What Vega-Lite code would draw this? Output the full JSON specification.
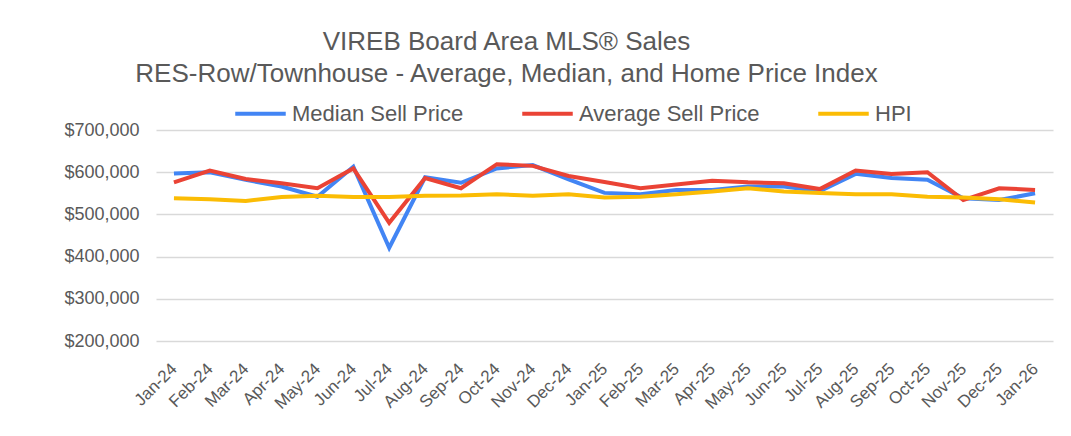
{
  "$schema": "https://vega.github.io/schema/vega-lite/v6.json",
  "width": 897,
  "height": 211,
  "autosize": {"type": "none"},
  "padding": {"left": 156, "top": 130, "right": 18, "bottom": 95},
  "background": "white",
  "config": {
    "font": "Liberation Sans",
    "view": {"stroke": null}
  },
  "title": {
    "text": ["VIREB Board Area MLS® Sales", "RES-Row/Townhouse - Average, Median, and Home Price Index"],
    "fontSize": 26,
    "fontWeight": "normal",
    "color": "#595959",
    "anchor": "middle",
    "dx": -98,
    "dy": 21,
    "offset": 20,
    "lineHeight": 32
  },
  "data": {
    "values": [
      {"month": "Jan-24", "series": "Median Sell Price", "value": 597000},
      {"month": "Feb-24", "series": "Median Sell Price", "value": 600000},
      {"month": "Mar-24", "series": "Median Sell Price", "value": 582000},
      {"month": "Apr-24", "series": "Median Sell Price", "value": 566000},
      {"month": "May-24", "series": "Median Sell Price", "value": 542000},
      {"month": "Jun-24", "series": "Median Sell Price", "value": 613000},
      {"month": "Jul-24", "series": "Median Sell Price", "value": 421000},
      {"month": "Aug-24", "series": "Median Sell Price", "value": 588000},
      {"month": "Sep-24", "series": "Median Sell Price", "value": 575000},
      {"month": "Oct-24", "series": "Median Sell Price", "value": 609000},
      {"month": "Nov-24", "series": "Median Sell Price", "value": 617000},
      {"month": "Dec-24", "series": "Median Sell Price", "value": 583000},
      {"month": "Jan-25", "series": "Median Sell Price", "value": 551000},
      {"month": "Feb-25", "series": "Median Sell Price", "value": 548000},
      {"month": "Mar-25", "series": "Median Sell Price", "value": 558000},
      {"month": "Apr-25", "series": "Median Sell Price", "value": 558000},
      {"month": "May-25", "series": "Median Sell Price", "value": 566000},
      {"month": "Jun-25", "series": "Median Sell Price", "value": 566000},
      {"month": "Jul-25", "series": "Median Sell Price", "value": 555000},
      {"month": "Aug-25", "series": "Median Sell Price", "value": 596000},
      {"month": "Sep-25", "series": "Median Sell Price", "value": 586000},
      {"month": "Oct-25", "series": "Median Sell Price", "value": 582000},
      {"month": "Nov-25", "series": "Median Sell Price", "value": 538000},
      {"month": "Dec-25", "series": "Median Sell Price", "value": 534000},
      {"month": "Jan-26", "series": "Median Sell Price", "value": 550000},
      {"month": "Jan-24", "series": "Average Sell Price", "value": 576000},
      {"month": "Feb-24", "series": "Average Sell Price", "value": 604000},
      {"month": "Mar-24", "series": "Average Sell Price", "value": 584000},
      {"month": "Apr-24", "series": "Average Sell Price", "value": 574000},
      {"month": "May-24", "series": "Average Sell Price", "value": 562000},
      {"month": "Jun-24", "series": "Average Sell Price", "value": 609000},
      {"month": "Jul-24", "series": "Average Sell Price", "value": 480000},
      {"month": "Aug-24", "series": "Average Sell Price", "value": 586000},
      {"month": "Sep-24", "series": "Average Sell Price", "value": 562000},
      {"month": "Oct-24", "series": "Average Sell Price", "value": 619000},
      {"month": "Nov-24", "series": "Average Sell Price", "value": 615000},
      {"month": "Dec-24", "series": "Average Sell Price", "value": 591000},
      {"month": "Jan-25", "series": "Average Sell Price", "value": 577000},
      {"month": "Feb-25", "series": "Average Sell Price", "value": 562000},
      {"month": "Mar-25", "series": "Average Sell Price", "value": 571000},
      {"month": "Apr-25", "series": "Average Sell Price", "value": 580000},
      {"month": "May-25", "series": "Average Sell Price", "value": 576000},
      {"month": "Jun-25", "series": "Average Sell Price", "value": 574000},
      {"month": "Jul-25", "series": "Average Sell Price", "value": 560000},
      {"month": "Aug-25", "series": "Average Sell Price", "value": 604000},
      {"month": "Sep-25", "series": "Average Sell Price", "value": 596000},
      {"month": "Oct-25", "series": "Average Sell Price", "value": 600000},
      {"month": "Nov-25", "series": "Average Sell Price", "value": 534000},
      {"month": "Dec-25", "series": "Average Sell Price", "value": 562000},
      {"month": "Jan-26", "series": "Average Sell Price", "value": 558000},
      {"month": "Jan-24", "series": "HPI", "value": 538000},
      {"month": "Feb-24", "series": "HPI", "value": 536000},
      {"month": "Mar-24", "series": "HPI", "value": 532000},
      {"month": "Apr-24", "series": "HPI", "value": 541000},
      {"month": "May-24", "series": "HPI", "value": 544000},
      {"month": "Jun-24", "series": "HPI", "value": 541000},
      {"month": "Jul-24", "series": "HPI", "value": 541000},
      {"month": "Aug-24", "series": "HPI", "value": 544000},
      {"month": "Sep-24", "series": "HPI", "value": 545000},
      {"month": "Oct-24", "series": "HPI", "value": 548000},
      {"month": "Nov-24", "series": "HPI", "value": 544000},
      {"month": "Dec-24", "series": "HPI", "value": 548000},
      {"month": "Jan-25", "series": "HPI", "value": 540000},
      {"month": "Feb-25", "series": "HPI", "value": 542000},
      {"month": "Mar-25", "series": "HPI", "value": 548000},
      {"month": "Apr-25", "series": "HPI", "value": 554000},
      {"month": "May-25", "series": "HPI", "value": 562000},
      {"month": "Jun-25", "series": "HPI", "value": 554000},
      {"month": "Jul-25", "series": "HPI", "value": 551000},
      {"month": "Aug-25", "series": "HPI", "value": 548000},
      {"month": "Sep-25", "series": "HPI", "value": 548000},
      {"month": "Oct-25", "series": "HPI", "value": 542000},
      {"month": "Nov-25", "series": "HPI", "value": 540000},
      {"month": "Dec-25", "series": "HPI", "value": 536000},
      {"month": "Jan-26", "series": "HPI", "value": 528000}
    ]
  },
  "mark": {"type": "line", "strokeWidth": 4, "strokeJoin": "miter", "strokeCap": "butt"},
  "encoding": {
    "x": {
      "field": "month",
      "type": "ordinal",
      "sort": null,
      "scale": {"type": "point", "padding": 0.5},
      "axis": {
        "title": null,
        "labelAngle": -45,
        "labelAlign": "right",
        "labelBaseline": "middle",
        "labelFontSize": 17,
        "labelColor": "#595959",
        "labelPadding": 25,
        "ticks": false,
        "domain": false,
        "grid": false
      }
    },
    "y": {
      "field": "value",
      "type": "quantitative",
      "scale": {"domain": [200000, 700000], "nice": false, "zero": false},
      "axis": {
        "title": null,
        "values": [200000, 300000, 400000, 500000, 600000, 700000],
        "format": "$,.0f",
        "labelFontSize": 18,
        "labelColor": "#595959",
        "labelPadding": 17,
        "ticks": false,
        "domain": false,
        "gridColor": "#d9d9d9",
        "gridWidth": 1.5
      }
    },
    "color": {
      "field": "series",
      "type": "nominal",
      "sort": ["Median Sell Price", "Average Sell Price", "HPI"],
      "scale": {
        "domain": ["Median Sell Price", "Average Sell Price", "HPI"],
        "range": ["#4285F4", "#EA4335", "#FBBC04"]
      },
      "legend": {
        "title": null,
        "orient": "none",
        "direction": "horizontal",
        "legendX": 77,
        "legendY": -44,
        "symbolType": "stroke",
        "symbolSize": 2550,
        "symbolStrokeWidth": 4,
        "labelFontSize": 22,
        "labelLimit": 400,
        "labelColor": "#595959",
        "labelOffset": 4,
        "columnPadding": 50
      }
    }
  }
}
